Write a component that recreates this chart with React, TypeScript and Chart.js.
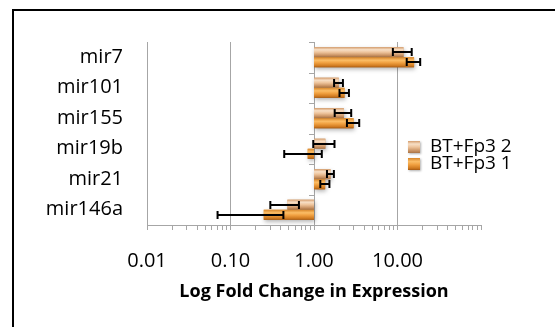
import React, { useEffect, useRef } from 'react';
import { Chart, registerables } from 'chart.js';

Chart.register(...registerables);

const categories = ['mir7', 'mir101', 'mir155', 'mir19b', 'mir21', 'mir146a'];
const seriesNames = ['BT+Fp3 2', 'BT+Fp3 1'];
const fp3Two = [11.8, 1.98, 2.28, 1.37, 1.58, 0.48];
const fp3TwoSd = [3.0, 0.24, 0.51, 0.39, 0.15, 0.18];
const fp3One = [15.8, 2.32, 2.98, 0.84, 1.36, 0.25];
const fp3OneSd = [2.9, 0.3, 0.5, 0.4, 0.17, 0.18];
const majorTicks = [0.01, 0.1, 1, 10, 100];
const majorLabels = ['0.01', '0.10', '1.00', '10.00', ''];
const minorMultipliers = [2, 3, 4, 5, 6, 7, 8, 9];
const barBase = 1;
const axisTitle = 'Log Fold Change in Expression';

const FONT = "'Open Sans', sans-serif";

export default function App() {
  const ref = useRef<HTMLCanvasElement>(null);

  useEffect(() => {
    const canvas = ref.current;
    if (!canvas) return;

    const values = [fp3Two, fp3One];
    const sds = [fp3TwoSd, fp3OneSd];
    const palettes: [number, string][][] = [
      [[0, '#d49c6c'], [0.25, '#f7dfc6'], [0.5, '#eec49c'], [0.85, '#c48c5c'], [1, '#a87448']],
      [[0, '#d8862a'], [0.3, '#fbbd66'], [0.55, '#f0a040'], [0.85, '#cf7a20'], [1, '#a65a14']],
    ];
    const solid = ['#e8b888', '#ee9a38'];

    const isMajor = (v: number) => majorTicks.some((m) => Math.abs(m - v) < m * 1e-6);
    const tickValues: number[] = [];
    majorTicks.forEach((m, i) => {
      tickValues.push(m);
      if (i < majorTicks.length - 1) {
        minorMultipliers.forEach((k) => tickValues.push(Number((m * k).toPrecision(6))));
      }
    });

    const grad = (ctx: CanvasRenderingContext2D, top: number, bottom: number, p: [number, string][]) => {
      const g = ctx.createLinearGradient(0, top, 0, bottom);
      p.forEach(([o, c]) => g.addColorStop(o, c));
      return g;
    };

    const overlay = {
      id: 'overlay',
      afterDatasetsDraw(chart: any) {
        const ctx: CanvasRenderingContext2D = chart.ctx;
        const xs = chart.scales.x;
        const ys = chart.scales.y;

        // category tick marks on the vertical axis crossing at 1
        const px1 = xs.getPixelForValue(barBase);
        const n = categories.length;
        const band = (ys.bottom - ys.top) / n;
        ctx.save();
        ctx.strokeStyle = '#a6a6a6';
        ctx.lineWidth = 1;
        ctx.beginPath();
        ctx.moveTo(px1 + 0.5, ys.top);
        ctx.lineTo(px1 + 0.5, ys.bottom);
        for (let k = 0; k <= n; k++) {
          const yy = Math.round(ys.top + k * band) + 0.5;
          ctx.moveTo(px1 - 5, yy);
          ctx.lineTo(px1 + 0.5, yy);
        }
        ctx.stroke();
        ctx.restore();

        // shaded bars
        chart.data.datasets.forEach((_ds: any, i: number) => {
          const meta = chart.getDatasetMeta(i);
          meta.data.forEach((el: any) => {
            const p = el.getProps(['x', 'y', 'base', 'height'], true);
            const l = Math.min(p.x, p.base);
            const r = Math.max(p.x, p.base);
            const t = p.y - p.height / 2;
            const b = p.y + p.height / 2;
            ctx.save();
            ctx.shadowColor = 'rgba(0,0,0,0.3)';
            ctx.shadowBlur = 4;
            ctx.shadowOffsetX = 1;
            ctx.shadowOffsetY = 2;
            ctx.fillStyle = grad(ctx, t, b, palettes[i]);
            ctx.fillRect(l, t, r - l, b - t);
            ctx.restore();
          });
        });

        // error bars
        ctx.save();
        ctx.strokeStyle = '#000';
        ctx.lineWidth = 2;
        chart.data.datasets.forEach((_ds: any, i: number) => {
          const meta = chart.getDatasetMeta(i);
          meta.data.forEach((el: any, j: number) => {
            const p = el.getProps(['y'], true);
            const v = values[i][j];
            const s = sds[i][j];
            const lo = xs.getPixelForValue(Math.max(v - s, 0.0001));
            const hi = xs.getPixelForValue(v + s);
            const y = Math.round(p.y);
            const cap = 4;
            ctx.beginPath();
            ctx.moveTo(lo, y);
            ctx.lineTo(hi, y);
            ctx.moveTo(lo, y - cap);
            ctx.lineTo(lo, y + cap);
            ctx.moveTo(hi, y - cap);
            ctx.lineTo(hi, y + cap);
            ctx.stroke();
          });
        });
        ctx.restore();
      },
      afterDraw(chart: any) {
        const ctx: CanvasRenderingContext2D = chart.ctx;
        ctx.save();
        ctx.font = `19px ${FONT}`;
        ctx.textBaseline = 'middle';
        ctx.textAlign = 'left';
        chart.data.datasets.forEach((ds: any, i: number) => {
          const cy = 147 + i * 17;
          const sx = 408;
          const sz = 12;
          ctx.save();
          ctx.shadowColor = 'rgba(0,0,0,0.3)';
          ctx.shadowBlur = 2;
          ctx.shadowOffsetX = 1;
          ctx.shadowOffsetY = 1;
          ctx.fillStyle = grad(ctx, cy - sz / 2, cy + sz / 2, palettes[i]);
          ctx.fillRect(sx, cy - sz / 2, sz, sz);
          ctx.restore();
          ctx.fillStyle = '#000';
          ctx.fillText(ds.label, 430, cy);
        });
        ctx.restore();
      },
    };

    const chart = new Chart(canvas, {
      type: 'bar',
      data: {
        labels: categories,
        datasets: seriesNames.map((name, i) => ({
          label: name,
          data: values[i].map((v) => [barBase, v]),
          backgroundColor: solid[i],
          borderWidth: 0,
          categoryPercentage: 0.66,
          barPercentage: 1,
        })),
      } as any,
      options: {
        indexAxis: 'y',
        responsive: false,
        animation: false,
        devicePixelRatio: 1,
        layout: { padding: { top: 42, right: 74, left: 0, bottom: 0 } },
        plugins: { legend: { display: false }, tooltip: { enabled: false } },
        scales: {
          x: {
            type: 'logarithmic',
            min: 0.01,
            max: 100,
            afterBuildTicks: (s: any) => {
              s.ticks = tickValues.map((v) => ({ value: v, major: isMajor(v) }));
            },
            afterFit: (s: any) => {
              s.height = 102;
            },
            ticks: {
              autoSkip: false,
              maxRotation: 0,
              minRotation: 0,
              padding: 19,
              color: '#000',
              font: { family: FONT, size: 20 },
              callback: (v: any) => {
                const k = majorTicks.findIndex((m) => Math.abs(m - Number(v)) < m * 1e-6);
                return k >= 0 ? majorLabels[k] : '';
              },
            },
            grid: {
              color: (c: any) =>
                c.tick && isMajor(c.tick.value) && c.tick.value < 100 ? '#a6a6a6' : 'rgba(0,0,0,0)',
              tickColor: '#a6a6a6',
              tickLength: 5,
              lineWidth: 1,
            },
            border: { display: true, color: '#a6a6a6', width: 1 },
            title: {
              display: true,
              text: axisTitle,
              color: '#000',
              font: { family: FONT, size: 18, weight: 'bold' },
              padding: { top: 0, bottom: 24 },
            },
          },
          y: {
            afterFit: (s: any) => {
              s.width = 147;
            },
            grid: { display: false, drawTicks: false },
            border: { display: false },
            ticks: { padding: 24, color: '#000', font: { family: FONT, size: 20 } },
          },
        },
      } as any,
      plugins: [overlay],
    });

    return () => chart.destroy();
  }, []);

  return (
    <div
      style={{
        position: 'absolute',
        left: 0,
        top: 0,
        width: 555,
        height: 327,
        overflow: 'hidden',
        background: '#fff',
      }}
    >
      <canvas ref={ref} width={555} height={327} style={{ position: 'absolute', left: 0, top: 0 }} />
      <div
        style={{
          position: 'absolute',
          left: 12,
          top: 9,
          width: 700,
          height: 500,
          borderLeft: '2px solid #000',
          borderTop: '2px solid #000',
          pointerEvents: 'none',
        }}
      />
    </div>
  );
}
